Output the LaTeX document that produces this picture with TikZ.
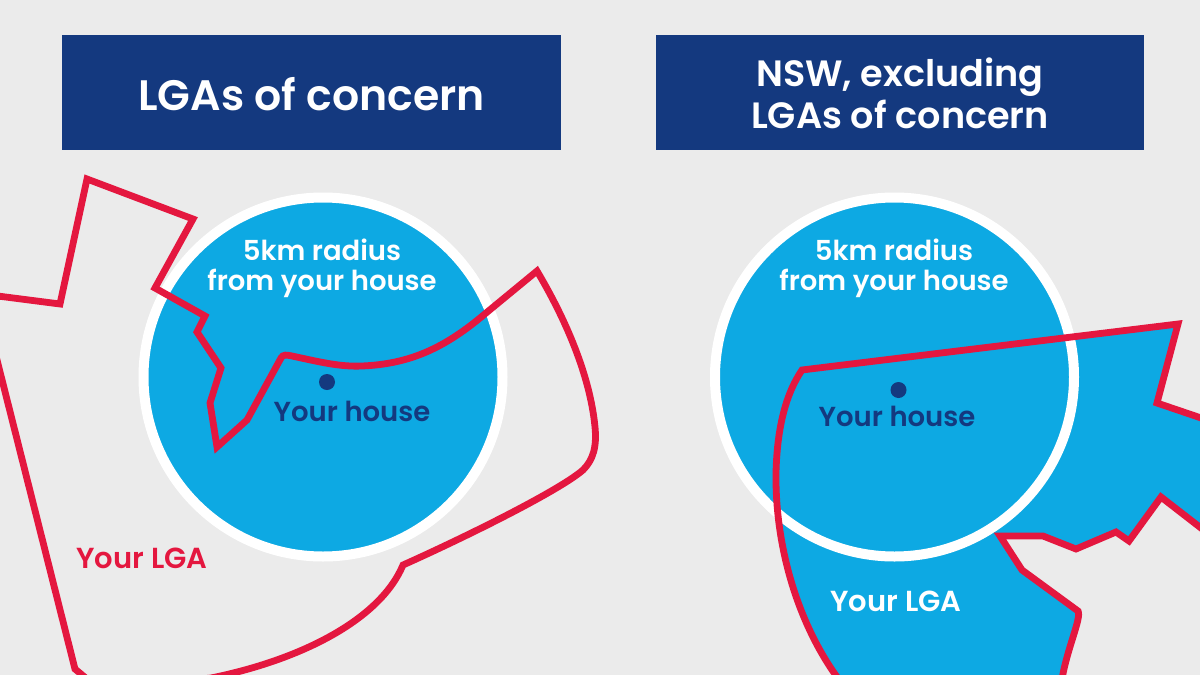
\documentclass[tikz,border=0pt]{standalone}
\usepackage{fontspec}
\setmainfont[BoldFont={Poppins SemiBold}]{Poppins}
\definecolor{bg}{HTML}{EBEBEB}
\definecolor{navy}{HTML}{14397F}
\definecolor{sky}{HTML}{0DA9E3}
\definecolor{lgared}{HTML}{E4173F}
\tikzset{
  header/.style={fill=navy,text=white,draw=none,align=center,inner sep=0pt,anchor=center},
  radiusdisc/.style={circle,fill=sky,draw=white,line width=10pt,minimum size=359pt,inner sep=0pt},
  border/.style={draw=lgared,line width=6.8pt,miter limit=10,line join=miter},
  lbl/.style={font=\fontsize{27.5}{30.5}\selectfont\bfseries,align=center,inner sep=0pt},
  lgalbl/.style={font=\fontsize{29}{31}\selectfont\bfseries,align=center,inner sep=0pt},
  housedot/.style={circle,fill=navy,minimum size=16pt,inner sep=0pt}
}
\begin{document}
\begin{tikzpicture}[x=1pt,y=-1pt]
\fill[bg] (0,0) rectangle (1200,675);
\useasboundingbox (0,0) rectangle (1200,675);
\node[header,minimum width=499pt,minimum height=115pt] (h1) at (311.5,92.5) {};
\node[text=white,inner sep=0pt,font=\fontsize{42.6}{44}\selectfont\bfseries] (h1t) at (311.5,94) {LGAs of concern};
\node[header,minimum width=488pt,minimum height=115pt] (h2) at (900,92.5) {};
\node[text=white,inner sep=0pt,align=center,font=\fontsize{36.6}{42}\selectfont\bfseries] (h2t) at (900,93.5) {NSW, excluding\\LGAs of concern};
% left
\node[radiusdisc] (c1) at (323,377) {};
\begin{scope}
\clip (0,0) rectangle (1200,675);
\draw[border] (-10,295) -- (60,304) -- (87,179) -- (193,219) -- (155,288) -- (205,316) -- (197,332) -- (221,368) -- (210,403) -- (217,447) -- (247,420) -- (281,358)
  .. controls (283,354) and (287,355) .. (292,356)
  .. controls (320,362) and (340,367) .. (362,366)
  .. controls (410,364) and (445,348) .. (486,313)
  -- (537,271)
  .. controls (565,318) and (590,375) .. (595,427)
  .. controls (597,447) and (593,460) .. (583,470)
  .. controls (560,490) and (470,535) .. (403,565)
  .. controls (380,620) and (300,660) .. (211,678)
  -- (100,690) -- (75,669) -- (-5,352);
\end{scope}
% right
\begin{scope}
\clip (0,0) rectangle (1200,675);
\path[fill=sky] (802,370) -- (1178,324) -- (1157,403) -- (1210,421) -- (1210,535) -- (1161,497) -- (1129,541) -- (1116,532) -- (1076,549) -- (1043,536) -- (1000,536) -- (1022,570) -- (1078,611)
  .. controls (1082,618) and (1066,650) .. (1061,685)
  -- (843,685)
  .. controls (800,630) and (775,550) .. (776,473)
  .. controls (777,430) and (785,395) .. (802,370) -- cycle;
\node[radiusdisc] (c2) at (894.5,377) {};
\draw[border] (1210,421) -- (1157,403) -- (1178,324) -- (802,370)
  .. controls (785,395) and (777,430) .. (776,473)
  .. controls (775,550) and (800,630) .. (843,685);
\draw[border] (1210,535) -- (1161,497) -- (1129,541) -- (1116,532) -- (1076,549) -- (1043,536) -- (1000,536) -- (1022,570) -- (1078,611)
  .. controls (1082,618) and (1066,650) .. (1061,685);
\end{scope}
% texts
\node[lbl,text=white] (t1) at (322,268.5) {5km radius\\from your house};
\node[housedot] (d1) at (327,382) {};
\node[lbl,text=navy] (y1) at (352,411) {Your house};
\node[lgalbl,text=lgared] (l1) at (142,558) {Your LGA};
\node[lbl,text=white] (t2) at (894,268.5) {5km radius\\from your house};
\node[housedot] (d2) at (898.5,390) {};
\node[lbl,text=navy] (y2) at (897,416) {Your house};
\node[lgalbl,text=white] (l2) at (896,601) {Your LGA};
\end{tikzpicture}
\end{document}
